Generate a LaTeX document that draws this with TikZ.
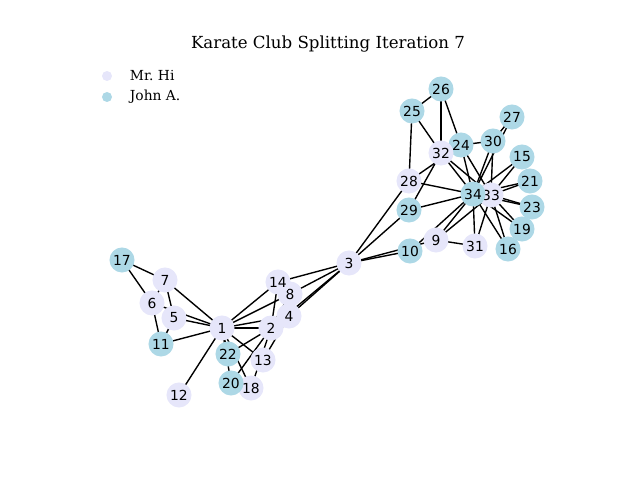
\documentclass[tikz,border=0pt]{standalone}
\usepackage{fontspec}
\setmainfont{DejaVu Serif}
\newfontfamily\labelfont{DejaVu Sans}
\usetikzlibrary{backgrounds}
\definecolor{hi}{HTML}{E6E6FA}
\definecolor{john}{HTML}{ADD8E6}
\begin{document}
\begin{tikzpicture}[x=0.01in,y=-0.01in,
  member/.style={circle,inner sep=0pt,minimum size=0.25in,font=\labelfont\fontsize{10}{12}\selectfont},
  hinode/.style={member,fill=hi},
  johnnode/.style={member,fill=john},
  tie/.style={draw=black,line width=1pt},
  legmark/.style={circle,inner sep=0pt,minimum size=0.1in},
  legtext/.style={anchor=west,font=\fontsize{10}{12}\selectfont}]
\useasboundingbox (0,0) rectangle (640,480);

% title
\node (title) at (328,44) {\fontsize{12}{14}\selectfont Karate Club Splitting Iteration 7};

% legend
\node[legmark,fill=hi] (lgHi) at (107,76) {};
\node[legtext] (lgHiText) at (125,76) {Mr.\ Hi};
\node[legmark,fill=john] (lgJohn) at (107,97) {};
\node[legtext] (lgJohnText) at (125,97) {John A.};

% members: number / x / y / faction style
\foreach \i/\x/\y/\s in {1/222/328/hinode,2/271/328/hinode,3/349/263/hinode,4/289/316/hinode,
  5/174/318/hinode,6/152/303/hinode,7/165/280/hinode,8/290/294/hinode,9/436/240/hinode,
  10/410/251/johnnode,11/161/344/johnnode,12/179/395/hinode,13/263/360/hinode,14/278/282/hinode,
  15/522/157/johnnode,16/508/249/johnnode,17/122/260/johnnode,18/251/388/hinode,19/522/229/johnnode,
  20/231/383/johnnode,21/530/181/johnnode,22/228/354/johnnode,23/532/207/johnnode,24/461/145/johnnode,
  25/412/111/johnnode,26/441/89/johnnode,27/512/117/johnnode,28/409/181/hinode,29/409/210/johnnode,
  30/493/141/johnnode,31/475/246/hinode,32/441/153/hinode,33/491/195/hinode,34/473/194/johnnode}
  {\node[\s] (n\i) at (\x,\y) {\i};}

% remaining friendships, drawn beneath the members
\begin{pgfonlayer}{background}
\foreach \a/\b in {1/2,1/4,1/5,1/6,1/7,1/8,1/11,1/12,1/13,1/14,1/18,1/20,1/22,
  2/3,2/4,2/8,2/14,2/18,2/20,2/22,
  3/4,3/8,3/9,3/10,3/14,3/28,3/29,
  4/8,4/13,4/14,
  5/7,5/11,
  6/7,6/11,6/17,
  7/17,
  9/31,9/33,9/34,
  10/34,
  15/33,15/34,
  16/33,16/34,
  19/33,19/34,
  21/33,21/34,
  23/33,23/34,
  24/26,24/28,24/30,24/33,24/34,
  25/26,25/28,25/32,
  26/32,
  27/30,27/34,
  28/34,
  29/32,29/34,
  30/33,30/34,
  31/33,31/34,
  32/33,32/34,
  33/34}
  {\draw[tie] (n\a.center) -- (n\b.center);}
\end{pgfonlayer}
\end{tikzpicture}
\end{document}
